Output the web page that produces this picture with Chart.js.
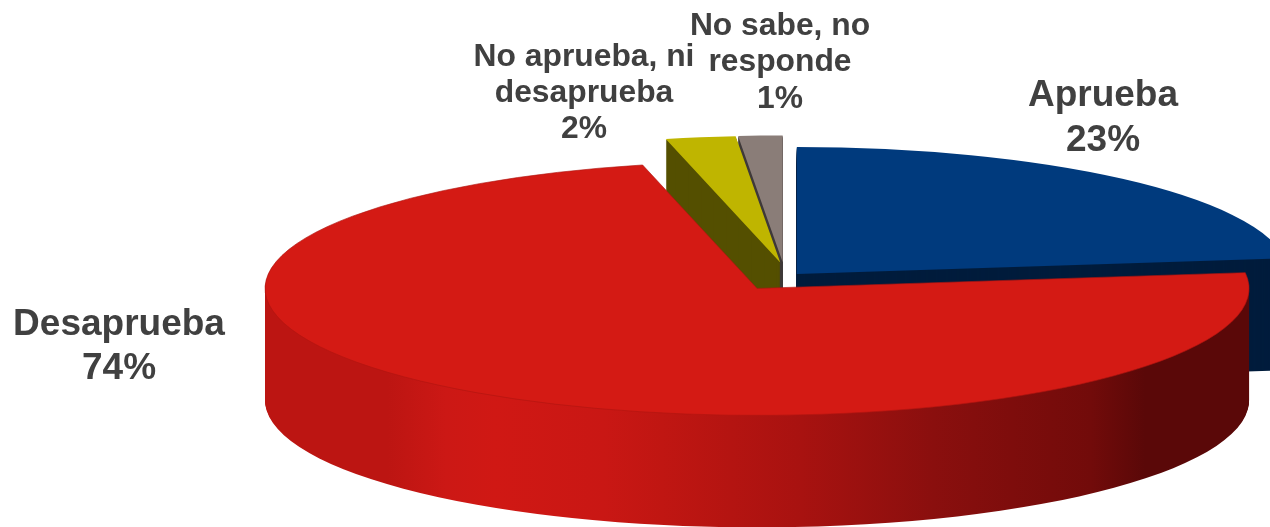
<!DOCTYPE html>
<html>
<head>
<meta charset="utf-8">
<style>
  html, body { margin: 0; padding: 0; background: #fff; overflow: hidden; }
  canvas { display: block; }
</style>
<script src="https://cdn.jsdelivr.net/npm/chart.js@4/dist/chart.umd.js"></script>
</head>
<body>
<canvas id="pie" width="1270" height="527"></canvas>
<script>
var categories = ["Aprueba", "Desaprueba", "No aprueba, ni desaprueba", "No sabe, no responde"];
var shares = [23.1, 73.5, 2.3, 1.45];
var percentLabels = ["23%", "74%", "2%", "1%"];

var topColors = ["#003a7d", "#d41a14", "#bfb500", "#8a7d78"];
var wallColors = ["#001c3c", null, "#544f00", "#3f3a3a"];
var explode = [36, 35, 72.5, 72.5];
var nudgeX = [-8, -4, 11, 5];
var drawOrder = [3, 2, 0, 1];

var labelLines = [
    { lines: ["Aprueba"], x: 1103, y: 96, size: 37, gap: 45 },
    { lines: ["Desaprueba"], x: 119, y: 325, size: 37, gap: 44 },
    { lines: ["No aprueba, ni", "desaprueba"], x: 584, y: 57, size: 31.8, gap: 36 },
    { lines: ["No sabe, no", "responde"], x: 780, y: 26, size: 31.8, gap: 36.5 }
];

var pieCentre = { x: 781, y: 281 };
var tilt = 0.258;
var depth = 112;

var pie3d = {
    id: "pie3d",
    beforeDatasetsDraw: function(chart) {
        var ctx = chart.ctx;
        var arcs = chart.getDatasetMeta(0).data;
        var wall = ctx.createLinearGradient(265, 0, 1249, 0);
        wall.addColorStop(0, "#bc1512");
        wall.addColorStop(0.06, "#cc1815");
        wall.addColorStop(0.11, "#d01814");
        wall.addColorStop(0.22, "#c91714");
        wall.addColorStop(0.28, "#c01612");
        wall.addColorStop(0.42, "#a81210");
        wall.addColorStop(0.556, "#8a0f0e");
        wall.addColorStop(0.715, "#720b0a");
        wall.addColorStop(0.77, "#5a0808");
        wall.addColorStop(1, "#5a0808");

        drawOrder.forEach(function(i) {
            var arc = arcs[i];
            var base = arc.options;
            var mid = (arc.startAngle + arc.endAngle) / 2;
            var paint = function(colour, dy, edge) {
                arc.options = Object.create(base);
                arc.options.backgroundColor = colour;
                arc.options.borderWidth = edge ? 1 : 0;
                arc.options.borderColor = edge || colour;
                ctx.save();
                ctx.translate(pieCentre.x + nudgeX[i], pieCentre.y + dy);
                ctx.scale(1, tilt);
                ctx.translate(Math.cos(mid) * explode[i], Math.sin(mid) * explode[i]);
                ctx.translate(-arc.x, -arc.y);
                arc.draw(ctx);
                ctx.restore();
                arc.options = base;
            };
            for (var d = depth; d > 0; d--) {
                paint(wallColors[i] || wall, d);
            }
            paint(topColors[i], 0, i === 1 ? "#b01410" : null);
        });
        return false;
    },
    afterDraw: function(chart) {
        var ctx = chart.ctx;
        ctx.save();
        ctx.fillStyle = "#404040";
        ctx.textAlign = "center";
        ctx.textBaseline = "middle";
        labelLines.forEach(function(l, i) {
            ctx.font = "bold " + l.size + "px 'Liberation Sans'";
            l.lines.concat(percentLabels[i]).forEach(function(t, n) {
                ctx.fillText(t, l.x, l.y + n * l.gap);
            });
        });
        ctx.restore();
    }
};

new Chart(document.getElementById("pie"), {
    type: "pie",
    data: {
        labels: categories,
        datasets: [{
            data: shares,
            backgroundColor: topColors,
            borderWidth: 0,
            clip: false
        }]
    },
    options: {
        responsive: false,
        animation: false,
        radius: 492,
        events: [],
        plugins: { legend: { display: false }, tooltip: { enabled: false } }
    },
    plugins: [pie3d]
});
</script>
</body>
</html>
